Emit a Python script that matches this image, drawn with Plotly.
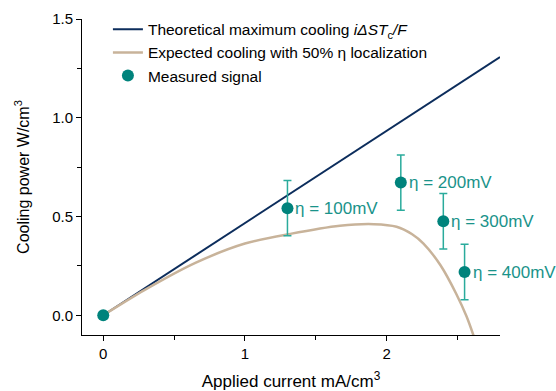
import plotly.graph_objects as go

# Theoretical maximum cooling line
theory_x = [0.0, 2.8]
theory_y = [0.0, 1.307]

# Expected cooling with 50% localization
expected_x = [0.0, 0.29, 0.65, 1.0, 1.32, 1.67, 1.91, 2.07, 2.18, 2.26, 2.38, 2.49, 2.565, 2.62]
expected_y = [0.0, 0.127, 0.265, 0.363, 0.412, 0.453, 0.461, 0.448, 0.41, 0.363, 0.253, 0.11, -0.008, -0.117]

# Measured signal
meas_x = [0.0, 1.30, 2.10, 2.40, 2.55]
meas_y = [0.0, 0.542, 0.672, 0.476, 0.219]
meas_err = [0.0, 0.14, 0.14, 0.14, 0.14]
meas_labels = ["", "η = 100mV", "η = 200mV", "η = 300mV", "η = 400mV"]

navy = "#0c2d5c"
beige = "#c8b39a"
teal = "#00837c"
teal_light = "#2aab9c"
teal_text = "#1a938a"

fig = go.Figure()
fig.add_trace(go.Scatter(
    x=theory_x, y=theory_y, mode="lines",
    line=dict(color=navy, width=2),
    name="Theoretical maximum cooling <i>iΔST</i><sub>c</sub><i>/F</i>",
))
fig.add_trace(go.Scatter(
    x=expected_x, y=expected_y, mode="lines",
    line=dict(color=beige, width=2.5, shape="spline", smoothing=0.8),
    name="Expected cooling with 50% η localization",
))
fig.add_trace(go.Scatter(
    x=meas_x, y=meas_y, mode="markers",
    marker=dict(color=teal, size=12),
    error_y=dict(type="data", array=meas_err, visible=True,
                 color=teal_light, thickness=1.5, width=4),
    name="Measured signal",
))

for x, y, t in zip(meas_x, meas_y, meas_labels):
    if t:
        fig.add_annotation(x=x, y=y, text=t, showarrow=False,
                           xanchor="left", yanchor="middle", xshift=6,
                           font=dict(color=teal_text, size=17))

axis_common = dict(
    showgrid=False, zeroline=False, showline=True, linecolor="black", linewidth=1,
    ticks="outside", ticklen=5, tickwidth=1, tickcolor="black",
    tickfont=dict(size=15, color="black"), automargin=False,
)

fig.update_xaxes(
    range=[-0.15, 2.8], tickvals=[0, 1, 2],
    minor=dict(tickvals=[0.5, 1.5, 2.5], ticks="outside", ticklen=4, tickcolor="black"),
    title=dict(text="Applied current mA/cm<sup>3</sup>", font=dict(size=17, color="black"), standoff=16),
    **axis_common,
)
fig.update_yaxes(
    range=[-0.1, 1.5], tickvals=[0, 0.5, 1.0, 1.5], tickformat=".1f",
    minor=dict(tickvals=[0.25, 0.75, 1.25], ticks="outside", ticklen=4, tickcolor="black"),
    title=dict(text="Cooling power W/cm<sup>3</sup>", font=dict(size=16, color="black"), standoff=18),
    **axis_common,
)

fig.update_layout(
    width=556, height=391,
    margin=dict(l=82, r=56, t=19, b=56, autoexpand=False),
    plot_bgcolor="white", paper_bgcolor="white",
    font=dict(family="Liberation Sans, Arial, sans-serif", size=15, color="black"),
    legend=dict(x=0.062, y=1.02, xanchor="left", yanchor="top",
                bgcolor="rgba(0,0,0,0)", font=dict(size=15.5), tracegroupgap=0),
    showlegend=True,
)

fig.write_html("out.html")
